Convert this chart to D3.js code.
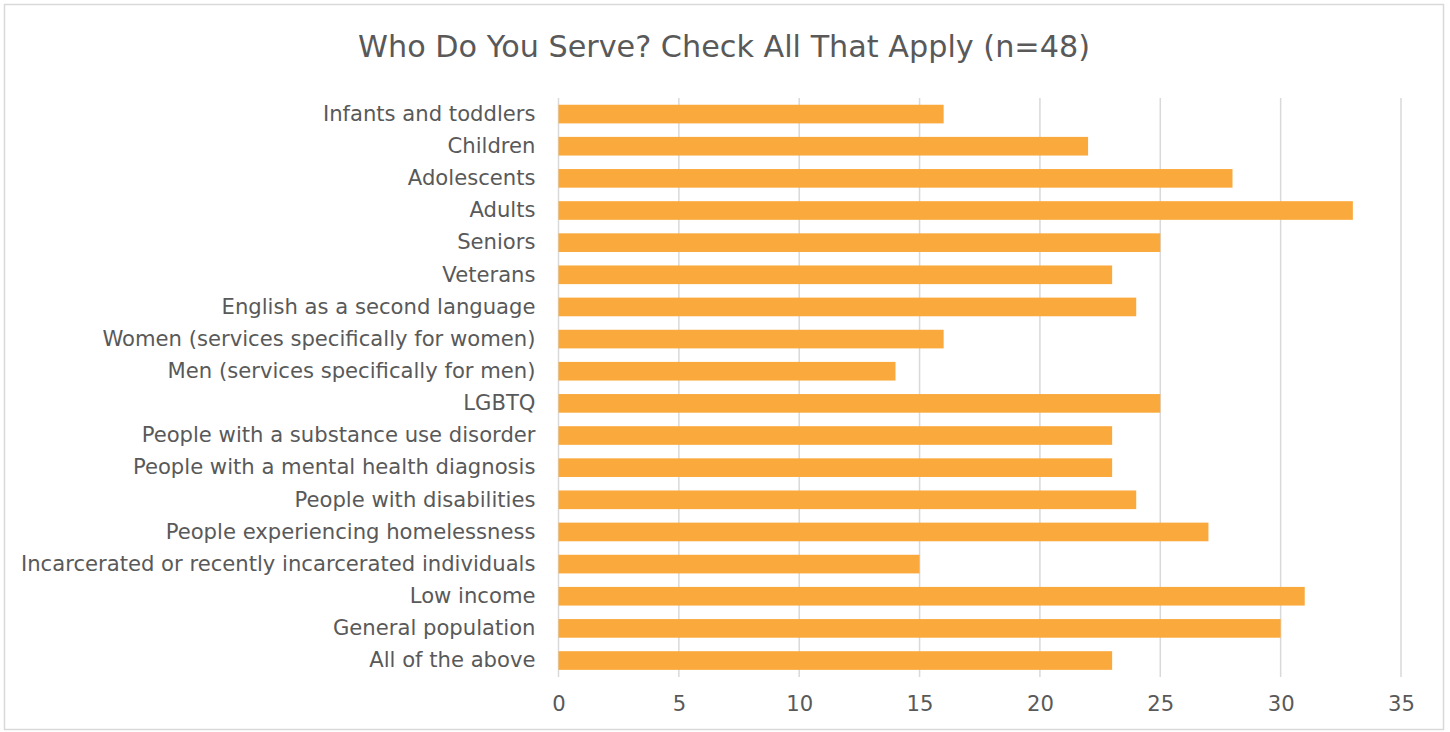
<!DOCTYPE html>
<html><head><meta charset="utf-8">
<script src="https://cdn.jsdelivr.net/npm/d3@7"></script>
<style>body{margin:0;background:#fff}svg{display:block}</style>
</head><body>
<svg id="c" width="1450" height="732"></svg>
<script>
const categories = ["Infants and toddlers","Children ","Adolescents","Adults","Seniors","Veterans","English as a second language","Women (services specifically for women)","Men (services specifically for men)","LGBTQ","People with a substance use disorder","People with a mental health diagnosis","People with disabilities","People experiencing homelessness","Incarcerated or recently incarcerated individuals","Low income","General population","All of the above"];
const values = [16,22,28,33,25,23,24,16,14,25,23,23,24,27,15,31,30,23];
const xTicks = [0,5,10,15,20,25,30,35];
const title = "Who Do You Serve? Check All That Apply (n=48)";

const font = "'DejaVu Sans', sans-serif";
const svg = d3.select("#c");
svg.append("rect").attr("x",4.5).attr("y",4.5).attr("width",1439).attr("height",725)
  .attr("fill","#fff").attr("stroke","#d9d9d9").attr("stroke-width",1.5);

const x = d3.scaleLinear().domain([0,35]).range([558.5,1401]);
const y = d3.scaleBand().domain(categories).range([98,676.6]).paddingInner(0.42).paddingOuter(0.21);

const t = svg.append("text").attr("x",724).attr("y",57).attr("text-anchor","middle")
  .attr("font-family",font).attr("font-size",28).attr("fill","#595959").text(title);
const tw = t.node().getComputedTextLength();
t.attr("font-size", 28*732/tw);

const g = svg.append("g");
g.selectAll("line.grid").data(xTicks).join("line").attr("class","grid")
  .attr("x1",d=>x(d)).attr("x2",d=>x(d)).attr("y1",98).attr("y2",677)
  .attr("stroke","#d9d9d9").attr("stroke-width",1.5);

g.selectAll("rect.bar").data(values).join("rect").attr("class","bar")
  .attr("x",x(0)).attr("y",(d,i)=>y(categories[i]))
  .attr("width",d=>x(d)-x(0)).attr("height",y.bandwidth())
  .attr("fill","#FAA93C");

const yAxis = d3.axisLeft(y).tickSize(0).tickPadding(23);
const ya = svg.append("g").attr("transform",`translate(${x(0)},0)`).call(yAxis);
ya.select(".domain").remove();
ya.selectAll("text").attr("font-family",font).attr("font-size",18).attr("fill","#595959");
let maxW = 0;
ya.selectAll("text").each(function(){ maxW = Math.max(maxW, this.getComputedTextLength()); });
const ls = 18*515/maxW;
ya.selectAll("text").attr("font-size",ls);

const xAxis = d3.axisBottom(x).tickValues(xTicks).tickSize(0).tickPadding(0);
const xa = svg.append("g").attr("transform",`translate(0,696)`).call(xAxis);
xa.select(".domain").remove();
xa.selectAll("text").attr("font-family",font).attr("font-size",ls).attr("fill","#595959");
</script>
</body></html>
